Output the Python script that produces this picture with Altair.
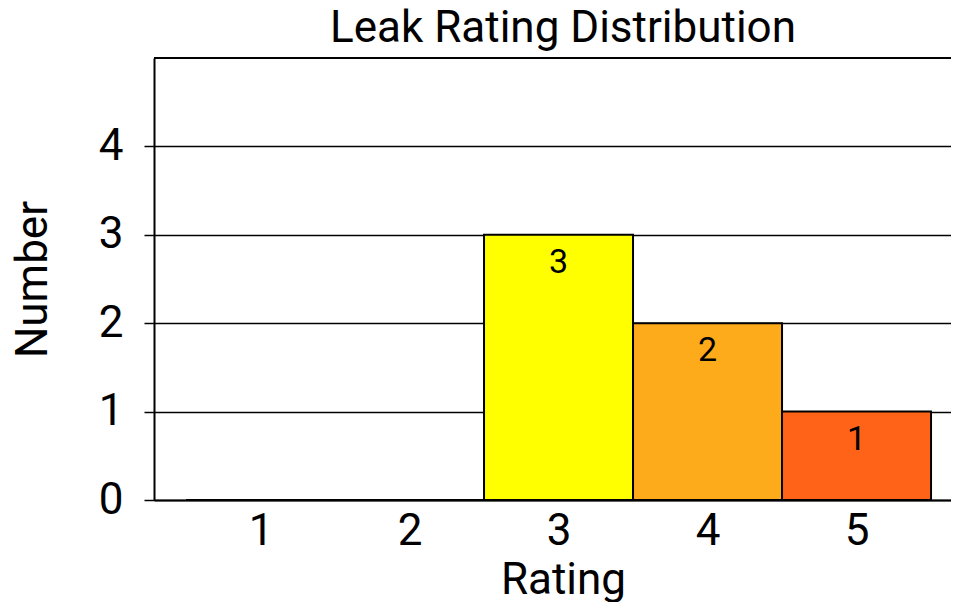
import altair as alt
import pandas as pd

ratings = [1, 2, 3, 4, 5]
counts = [0, 0, 3, 2, 1]
bar_colors = ["#FFFFFF", "#FFFFFF", "#FFFF00", "#FEAB1B", "#FF6318"]

df = pd.DataFrame({"Rating": ratings, "Number": counts})

FONT = "Roboto"
FS = 44

base = alt.Chart(df).transform_calculate(
    x0="datum.Rating - 0.5", x1="datum.Rating + 0.5"
)

xscale = alt.Scale(domain=[0.285, 5.775], nice=False, zero=False)
yscale = alt.Scale(domain=[0, 5], nice=False)

bars = base.mark_rect(stroke="black", strokeWidth=2).encode(
    x=alt.X(
        "x0:Q",
        scale=xscale,
        title="Rating",
        axis=alt.Axis(
            values=ratings,
            ticks=False,
            grid=False,
            domainColor="black",
            domainWidth=2,
            labelFontSize=FS,
            labelFont=FONT,
            labelColor="black",
            labelPadding=9,
            titleFontSize=FS,
            titleFont=FONT,
            titleFontWeight="normal",
            titleColor="black",
            titlePadding=5,
            format="d",
        ),
    ),
    x2="x1:Q",
    y=alt.Y(
        "Number:Q",
        scale=yscale,
        title="Number",
        axis=alt.Axis(
            values=[0, 1, 2, 3, 4],
            format="d",
            tickSize=10,
            tickColor="black",
            tickWidth=1.5,
            grid=True,
            gridColor="black",
            gridWidth=1.5,
            gridOpacity=1,
            domainColor="black",
            domainWidth=2,
            labelFontSize=FS,
            labelFont=FONT,
            labelColor="black",
            labelPadding=21,
            titleFontSize=FS,
            titleFont=FONT,
            titleFontWeight="normal",
            titleColor="black",
            titlePadding=43,
        ),
    ),
    y2=alt.datum(0),
    color=alt.Color(
        "Rating:N",
        scale=alt.Scale(domain=ratings, range=bar_colors),
        legend=None,
    ),
)

labels = base.transform_filter("datum.Number > 0").mark_text(
    baseline="top", dy=11, fontSize=34, font=FONT, color="black"
).encode(
    x=alt.X("Rating:Q", scale=xscale),
    y=alt.Y("Number:Q", scale=yscale),
    text=alt.Text("Number:Q", format="d"),
)

top_rule = alt.Chart(df).mark_rule(color="black", strokeWidth=2).encode(
    y=alt.YDatum(5),
)

chart = alt.layer(bars, labels, top_rule).properties(
    width=818,
    height=442,
    title=alt.TitleParams(
        "Leak Rating Distribution",
        fontSize=FS,
        font=FONT,
        fontWeight="normal",
        color="black",
        anchor="middle",
        frame="group",
        offset=6,
    ),
    autosize=alt.AutoSizeParams(type="none"),
    padding={"left": 146, "top": 50, "right": -21, "bottom": 102},
).configure_view(stroke=None).configure(background="white")

chart.save("out.html", embed_options={"renderer": "svg", "actions": False})
